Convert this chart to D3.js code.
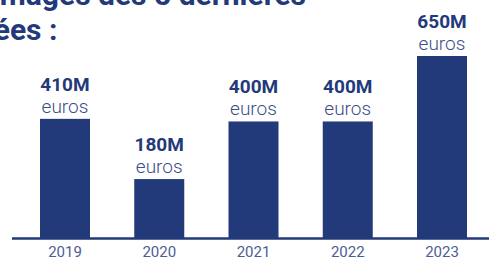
<!DOCTYPE html>
<html>
<head>
<meta charset="utf-8">
<script src="https://cdn.jsdelivr.net/npm/d3@7"></script>
<style>
  body { margin: 0; background: #fff; }
  svg { display: block; font-family: Roboto, sans-serif; }
</style>
</head>
<body>
<div id="chart"></div>
<script>
// data
var years = ["2019", "2020", "2021", "2022", "2023"];
var amounts = [410, 180, 400, 400, 650];   // millions d'euros
var unitLabel = "euros";
var titleLines = ["Montant des dommages des 5 dernières", "années :"];

var svgWidth = 489;
var svgHeight = 259;
var navy = "#233a7a";

var svg = d3.select("#chart")
  .append("svg")
  .attr("width", svgWidth)
  .attr("height", svgHeight);

// title, cut off by the frame like in the original
svg.append("text")
  .attr("x", 306)
  .attr("y", 5)
  .attr("text-anchor", "end")
  .attr("font-size", "30px")
  .attr("font-weight", 700)
  .attr("fill", navy)
  .text(titleLines[0]);

svg.append("text")
  .attr("x", -56)
  .attr("y", 40)
  .attr("font-size", "30px")
  .attr("font-weight", 700)
  .attr("fill", navy)
  .text(titleLines[1]);

// scales
var xScale = d3.scaleBand()
  .domain(years)
  .range([17.875, 489.125])
  .paddingInner(0.4695)
  .paddingOuter(0.2347);

// bars in the original are not drawn strictly to scale,
// a slightly shifted domain follows them more closely
var yScale = d3.scaleLinear()
  .domain([-45, 650])
  .range([238, 56]);

var data = years.map(function(y, i) {
  return { year: y, value: amounts[i] };
});

// bars
svg.selectAll("rect.bar")
  .data(data)
  .enter()
  .append("rect")
  .attr("class", "bar")
  .attr("x", d => xScale(d.year))
  .attr("y", d => yScale(d.value))
  .attr("width", xScale.bandwidth())
  .attr("height", d => yScale.range()[0] - yScale(d.value))
  .attr("fill", navy);

// baseline
var baseY = yScale.range()[0];
svg.append("line")
  .attr("x1", 12)
  .attr("x2", svgWidth)
  .attr("y1", baseY + 0.5)
  .attr("y2", baseY + 0.5)
  .attr("stroke", navy)
  .attr("stroke-width", 2.5);

// year labels
var xAxis = d3.axisBottom(xScale).tickSize(0).tickPadding(0);
var axisG = svg.append("g")
  .attr("transform", "translate(0, 246)")
  .call(xAxis);
axisG.select(".domain").remove();
axisG.selectAll("text")
  .attr("dy", "0.71em")
  .attr("font-family", "Roboto, sans-serif")
  .attr("font-size", "15px")
  .attr("fill", "#4d5d95");

// value labels
svg.selectAll("text.value")
  .data(data)
  .enter()
  .append("text")
  .attr("class", "value")
  .attr("x", d => xScale(d.year) + xScale.bandwidth() / 2)
  .attr("y", d => yScale(d.value) - 28)
  .attr("text-anchor", "middle")
  .attr("font-size", "19px")
  .attr("font-weight", 700)
  .attr("fill", navy)
  .text(d => d.value + "M");

svg.selectAll("text.unit")
  .data(data)
  .enter()
  .append("text")
  .attr("class", "unit")
  .attr("x", d => xScale(d.year) + xScale.bandwidth() / 2)
  .attr("y", d => yScale(d.value) - 6)
  .attr("text-anchor", "middle")
  .attr("font-size", "19px")
  .attr("font-weight", 300)
  .attr("fill", "#3b4d8a")
  .text(unitLabel);
</script>
</body>
</html>
